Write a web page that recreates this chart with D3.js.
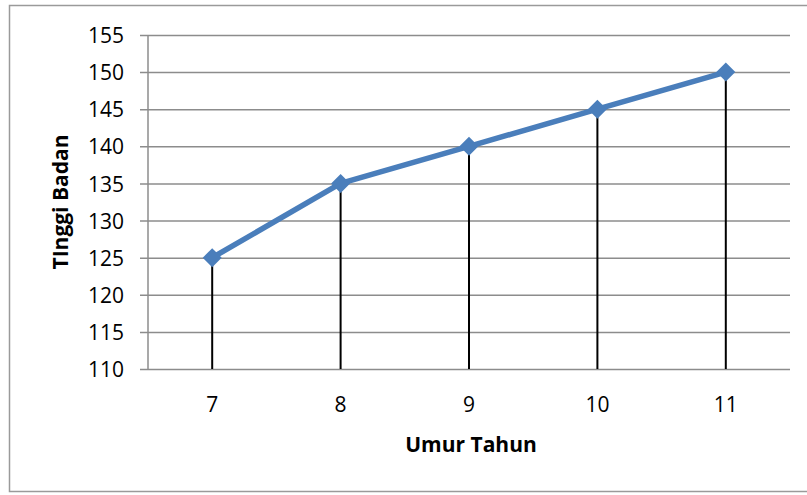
<!DOCTYPE html>
<html>
<head>
<meta charset="utf-8">
<script src="https://cdn.jsdelivr.net/npm/d3@7"></script>
<style>
  body { margin: 0; background: #fff; }
  svg text { font-family: "Open Sans", sans-serif; fill: #000; }
</style>
</head>
<body>
<div id="chart"></div>
<script>
// chart data
const ages = ['7', '8', '9', '10', '11'];
const heights = [125, 135, 140, 145, 150];
const yTicks = [110, 115, 120, 125, 130, 135, 140, 145, 150, 155];

const W = 807, H = 495;
const margin = { top: 35, right: 17, bottom: 126, left: 148 };
const width = W - margin.left - margin.right;
const height = H - margin.top - margin.bottom;

const svg = d3.select('#chart')
  .append('svg')
  .attr('width', W)
  .attr('height', H);

// outer chart border
svg.append('rect')
  .attr('x', 9.5).attr('y', 5.5)
  .attr('width', W).attr('height', 486)
  .attr('fill', 'none')
  .attr('stroke', '#9a9a9a')
  .attr('stroke-width', 1.5);

const g = svg.append('g')
  .attr('transform', `translate(${margin.left},${margin.top})`);

const x = d3.scaleBand()
  .domain(ages)
  .range([0, width]);

const y = d3.scaleLinear()
  .domain([110, 155])
  .range([height, 0]);

const cx = d => x(d) + x.bandwidth() / 2;

// horizontal grid lines + ticks
g.append('g')
  .call(d3.axisLeft(y)
    .tickValues(yTicks)
    .tickSize(8)
    .tickPadding(16)
    .tickFormat(d3.format('d')))
  .call(a => a.select('.domain').remove())
  .call(a => a.selectAll('.tick line')
    .attr('x2', width)
    .attr('x1', -8)
    .attr('stroke', '#8c8c8c')
    .attr('stroke-width', 1.5))
  .call(a => a.selectAll('.tick text')
    .style('font-size', '21px')
    .attr('dy', '0.36em'));

// y axis line
g.append('line')
  .attr('x1', 0).attr('x2', 0)
  .attr('y1', 0).attr('y2', height)
  .attr('stroke', '#8c8c8c')
  .attr('stroke-width', 1.5);

// x axis labels
g.append('g')
  .attr('transform', `translate(0,${height})`)
  .call(d3.axisBottom(x).tickSize(0).tickPadding(28))
  .call(a => a.select('.domain').remove())
  .call(a => a.selectAll('.tick text').style('font-size', '21px'));

// drop lines
g.selectAll('.drop')
  .data(heights)
  .enter()
  .append('line')
  .attr('class', 'drop')
  .attr('x1', (d, i) => cx(ages[i]))
  .attr('x2', (d, i) => cx(ages[i]))
  .attr('y1', d => y(d))
  .attr('y2', height)
  .attr('stroke', '#000')
  .attr('stroke-width', 2);

// series line
const line = d3.line()
  .x((d, i) => cx(ages[i]))
  .y(d => y(d));

g.append('path')
  .datum(heights)
  .attr('d', line)
  .attr('fill', 'none')
  .attr('stroke', '#4a7ebb')
  .attr('stroke-width', 5.5)
  .attr('stroke-linejoin', 'round');

// diamond markers
g.selectAll('.marker')
  .data(heights)
  .enter()
  .append('path')
  .attr('class', 'marker')
  .attr('d', d3.symbol().type(d3.symbolDiamond2).size(230))
  .attr('transform', (d, i) => `translate(${cx(ages[i])},${y(d)})`)
  .attr('fill', '#4a7ebb');

// axis titles
svg.append('text')
  .attr('x', margin.left + width / 2 + 2)
  .attr('y', 452)
  .attr('text-anchor', 'middle')
  .style('font-size', '21px')
  .style('font-weight', 'bold')
  .text('Umur Tahun');

svg.append('text')
  .attr('transform', `translate(68,${margin.top + height / 2}) rotate(-90)`)
  .attr('text-anchor', 'middle')
  .style('font-size', '21px')
  .style('font-weight', 'bold')
  .text('TInggi Badan');
</script>
</body>
</html>
